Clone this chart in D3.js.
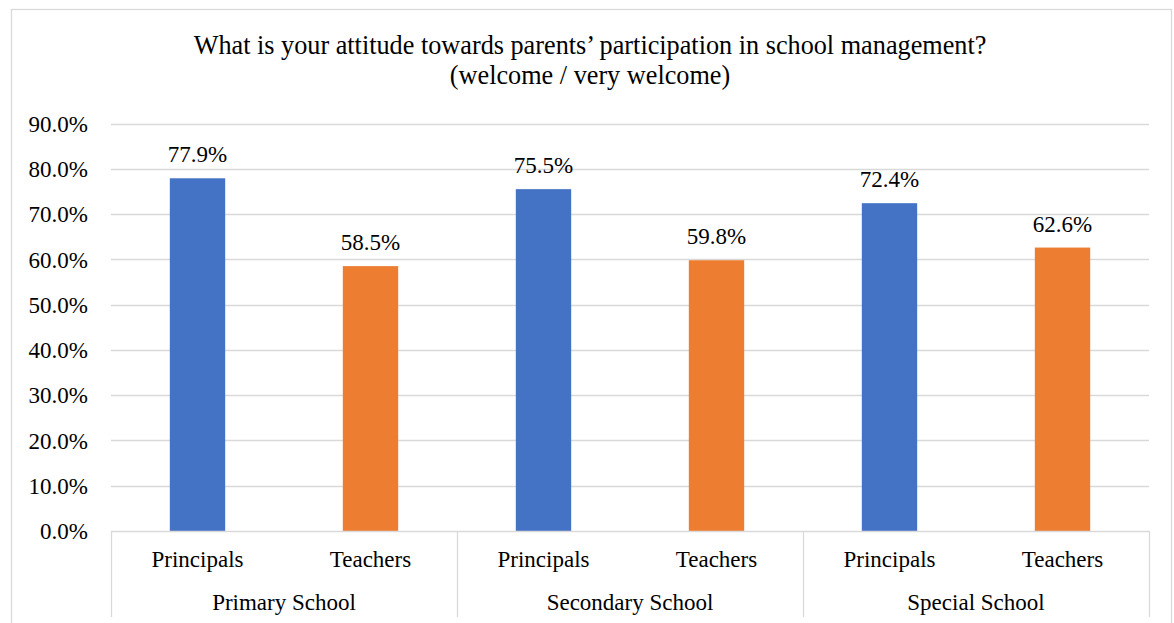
<!DOCTYPE html>
<html>
<head>
<meta charset="utf-8">
<script src="https://cdn.jsdelivr.net/npm/d3@7"></script>
<style>
  html, body { margin: 0; padding: 0; background: #fff; }
  svg { display: block; font-family: "Liberation Serif", "Times New Roman", serif; }
</style>
</head>
<body>
<svg id="chart" width="1174" height="623"></svg>
<script>
// Survey results: share answering "welcome / very welcome"
const schools = ["Primary School", "Secondary School", "Special School"];
const roles = ["Principals", "Teachers"];
const principals = [77.9, 75.5, 72.4];
const teachers = [58.5, 59.8, 62.6];
const yTicks = [0, 10, 20, 30, 40, 50, 60, 70, 80, 90];
const titleLines = [
  "What is your attitude towards parents\u2019 participation in school management?",
  "(welcome / very welcome)"
];

const FONT = "Liberation Serif";
const svg = d3.select("#chart");
const W = 1174, H = 623;
const margin = { left: 111, right: 25, top: 123.5, bottom: 92 };
const plotBottom = H - margin.bottom;

// Chart frame
svg.append("rect")
  .attr("x", 11.5).attr("y", 9.5)
  .attr("width", W - 14).attr("height", H)
  .attr("fill", "#fff").attr("stroke", "#d9d9d9").attr("stroke-width", 1.3);

// Title: tall, slightly condensed serif lettering
const titleX = 590;
const titleG = svg.append("g");
const titleText = titleG.selectAll("text").data(titleLines).join("text")
  .attr("x", 0).attr("y", (d, i) => 54 + i * 30)
  .attr("text-anchor", "middle")
  .attr("font-family", FONT)
  .attr("font-size", 28).attr("fill", "#000")
  .text(d => d);
const naturalW = titleText.node().getComputedTextLength();
const squeeze = 793 / naturalW;
titleG.attr("transform", `translate(${titleX},0) scale(${squeeze},1)`);

const y = d3.scaleLinear().domain([0, 90]).range([plotBottom, margin.top]);

const x0 = d3.scaleBand().domain(schools)
  .range([margin.left, W - margin.right]).paddingInner(0).paddingOuter(0);
const x1 = d3.scaleBand().domain(roles)
  .range([0, x0.bandwidth()]).paddingInner(0).paddingOuter(0);
const barW = x1.bandwidth() * 0.32;

// Gridlines
svg.append("g").selectAll("line").data(yTicks.filter(d => d > 0)).join("line")
  .attr("x1", margin.left).attr("x2", W - margin.right)
  .attr("y1", d => Math.round(y(d)) + 0.5).attr("y2", d => Math.round(y(d)) + 0.5)
  .attr("stroke", "#d9d9d9").attr("stroke-width", 1.3);

// Y axis labels
const yAxis = d3.axisLeft(y).tickValues(yTicks).tickSize(0).tickPadding(0)
  .tickFormat(d => d3.format(".1f")(d) + "%");
const gy = svg.append("g").attr("transform", `translate(${margin.left - 23},0)`).call(yAxis);
gy.attr("font-family", FONT);
gy.select(".domain").remove();
gy.selectAll("text").attr("font-size", 23).attr("font-family", FONT)
  .attr("fill", "#000").attr("dy", "0.34em");

// Bars and value labels
const rows = [];
schools.forEach((s, i) => {
  rows.push({ school: s, role: "Principals", value: principals[i] });
  rows.push({ school: s, role: "Teachers", value: teachers[i] });
});
const colors = d3.scaleOrdinal().domain(roles).range(["#4472C4", "#ED7D31"]);
const cx = d => x0(d.school) + x1(d.role) + x1.bandwidth() / 2;

svg.append("g").selectAll("rect").data(rows).join("rect")
  .attr("x", d => cx(d) - barW / 2)
  .attr("width", barW)
  .attr("y", d => y(d.value))
  .attr("height", d => plotBottom - y(d.value))
  .attr("fill", d => colors(d.role));

svg.append("g").selectAll("text").data(rows).join("text")
  .attr("x", cx)
  .attr("y", d => y(d.value) - 16)
  .attr("text-anchor", "middle")
  .attr("font-family", FONT)
  .attr("font-size", 23).attr("fill", "#000")
  .text(d => d3.format(".1f")(d.value) + "%");

// Category axis: baseline, group dividers and two label rows
const axis = svg.append("g").attr("stroke", "#d9d9d9").attr("stroke-width", 1.3);
axis.append("line")
  .attr("x1", margin.left).attr("x2", W - margin.right)
  .attr("y1", plotBottom + 0.5).attr("y2", plotBottom + 0.5);
const dividers = schools.map(s => x0(s)).concat([x0.range()[1]]);
axis.selectAll("line.div").data(dividers).join("line").attr("class", "div")
  .attr("x1", d => Math.round(d) + 0.5).attr("x2", d => Math.round(d) + 0.5)
  .attr("y1", plotBottom).attr("y2", H - 6);

svg.append("g").selectAll("text").data(rows).join("text")
  .attr("x", cx).attr("y", plotBottom + 36)
  .attr("text-anchor", "middle").attr("font-family", FONT)
  .attr("font-size", 23).attr("fill", "#000")
  .text(d => d.role);

svg.append("g").selectAll("text").data(schools).join("text")
  .attr("x", d => x0(d) + x0.bandwidth() / 2).attr("y", plotBottom + 79)
  .attr("text-anchor", "middle").attr("font-family", FONT)
  .attr("font-size", 23).attr("fill", "#000")
  .text(d => d);
</script>
</body>
</html>
